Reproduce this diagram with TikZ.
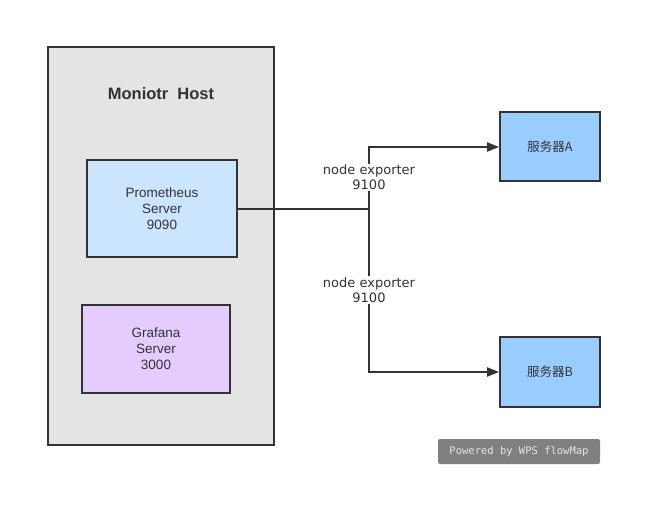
\documentclass[tikz,border=0pt]{standalone}
\usepackage{fontspec}
\setmainfont{DejaVu Sans}
\newfontfamily\cjk{Noto Sans CJK SC}
\newfontfamily\monof{DejaVu Sans Mono}
\newfontfamily\boxf{Liberation Sans}
\usetikzlibrary{arrows.meta}
\definecolor{edge}{HTML}{333333}
\definecolor{hostfill}{HTML}{E4E4E4}
\definecolor{promfill}{HTML}{CCE5FF}
\definecolor{graffill}{HTML}{E5CCFF}
\definecolor{srvfill}{HTML}{99CCFF}
\tikzset{
  box/.style={draw=edge, line width=1.8pt, inner sep=0pt, text=edge, align=center, font=\boxf\fontsize{13.5}{16}\selectfont},
  conn/.style={draw=edge, line width=1.8pt},
  lbl/.style={fill=white, text=edge, align=center, inner sep=1pt, font=\fontsize{13}{15}\selectfont},
}
\begin{document}
\begin{tikzpicture}[x=1pt,y=-1pt]
\useasboundingbox (0,0) rectangle (662,508);
\node[box, fill=hostfill, minimum width=226pt, minimum height=398pt] (host) at (161,246) {};
\node[text=edge, font=\boxf\bfseries\fontsize{16.5}{19}\selectfont] (title) at (161,94) {Moniotr\ \ Host};
\node[box, fill=promfill, minimum width=150pt, minimum height=97pt] (prom) at (162,208.5) {Prometheus\\Server\\9090};
\node[box, fill=graffill, minimum width=148pt, minimum height=88pt] (graf) at (156,349) {Grafana\\Server\\3000};
\node[box, fill=srvfill, minimum width=100pt, minimum height=69pt] (sa) at (550,146.5) {\cjk\fontsize{12.5}{14}\selectfont 服务器A};
\node[box, fill=srvfill, minimum width=100pt, minimum height=70pt] (sb) at (550,372) {\cjk\fontsize{12.5}{14}\selectfont 服务器B};
\coordinate (j) at (369,209);
\coordinate (ja) at (369,147);
\coordinate (jb) at (369,372);
\draw[conn] (prom.east |- j) -- (j);
\draw[conn, -{Triangle[length=12pt,width=9pt]}] (j) -- (ja) -- (sa.west |- ja);
\draw[conn, -{Triangle[length=12pt,width=9pt]}] (j) -- (jb) -- (sb.west |- jb);
\node[lbl] (la) at (369,177.5) {node exporter\\9100};
\node[lbl] (lb) at (369,290) {node exporter\\9100};
\node[fill=gray!100, rounded corners=2pt, minimum width=162pt, minimum height=25pt, text=white!80!gray, font=\monof\fontsize{10.5}{12}\selectfont] (wm) at (519,451.5) {Powered by WPS flowMap};
\end{tikzpicture}
\end{document}
